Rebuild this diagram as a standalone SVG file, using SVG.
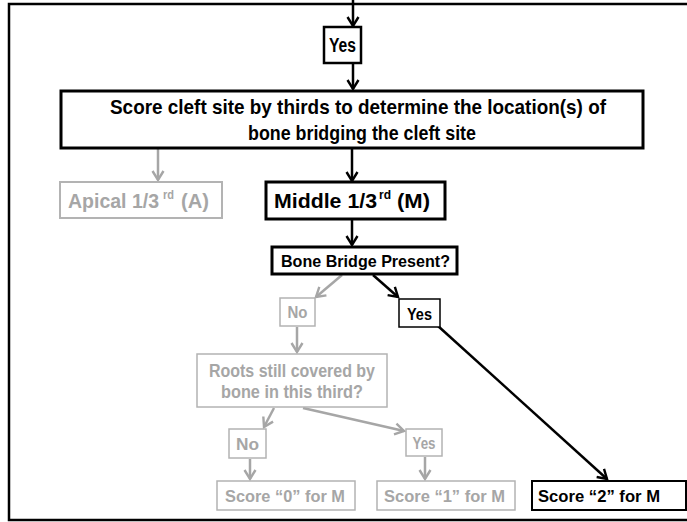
<svg xmlns="http://www.w3.org/2000/svg" width="687" height="522" viewBox="0 0 687 522">
<style>
text{font-family:"Liberation Sans","Open Sans",sans-serif;font-weight:bold;}
.k{fill:#000;}
.g{fill:#a6a6a6;}
.bk{fill:#fff;stroke:#000;}
.bg{fill:#fff;stroke:#b3b3b3;stroke-width:1.5;}
.ck{stroke:#000;stroke-width:2.5;fill:none;}
.cg{stroke:#a6a6a6;stroke-width:2.5;fill:none;}
</style>
<defs>
<marker id="ak" markerWidth="14" markerHeight="14" refX="10" refY="7" orient="auto" markerUnits="userSpaceOnUse">
<path d="M1,1.5 L10,7 L1,12.5" fill="none" stroke="#000" stroke-width="2.4"/>
</marker>
<marker id="ag" markerWidth="14" markerHeight="14" refX="10" refY="7" orient="auto" markerUnits="userSpaceOnUse">
<path d="M1,1.5 L10,7 L1,12.5" fill="none" stroke="#a6a6a6" stroke-width="2.4"/>
</marker>
</defs>
<rect width="687" height="522" fill="#fff"/>
<rect id="frame" x="9" y="4" width="690" height="516" fill="none" stroke="#000" stroke-width="2.5"/>

<g id="connectors">
<line class="ck" x1="353" y1="0" x2="353" y2="26" marker-end="url(#ak)"/>
<line class="ck" x1="353" y1="63" x2="353" y2="89" marker-end="url(#ak)"/>
<line class="cg" x1="158" y1="149" x2="158" y2="180" marker-end="url(#ag)"/>
<line class="ck" x1="352" y1="149" x2="352" y2="181" marker-end="url(#ak)"/>
<line class="ck" x1="352" y1="219" x2="352" y2="245" marker-end="url(#ak)"/>
<line class="cg" x1="342" y1="275" x2="316" y2="297" marker-end="url(#ag)"/>
<line class="ck" x1="373" y1="275" x2="398" y2="297" marker-end="url(#ak)"/>
<line class="ck" x1="438" y1="326" x2="607" y2="479" marker-end="url(#ak)"/>
<line class="cg" x1="297" y1="327" x2="297" y2="352" marker-end="url(#ag)"/>
<line class="cg" x1="274" y1="408" x2="264" y2="427" marker-end="url(#ag)"/>
<line class="cg" x1="303" y1="408" x2="404" y2="431" marker-end="url(#ag)"/>
<line class="cg" x1="250" y1="459" x2="250" y2="479" marker-end="url(#ag)"/>
<line class="cg" x1="425" y1="457" x2="425" y2="479" marker-end="url(#ag)"/>
</g>

<g id="yes-top">
<rect class="bk" x="324" y="27" width="37" height="36" stroke-width="2.5"/>
<text class="k" x="342.5" y="52" font-size="20" text-anchor="middle" textLength="27" lengthAdjust="spacingAndGlyphs">Yes</text>
</g>

<g id="score-cleft">
<rect class="bk" x="61" y="91" width="582" height="57" stroke-width="3"/>
<text class="k" x="358" y="114" font-size="21" text-anchor="middle" textLength="496" lengthAdjust="spacingAndGlyphs">Score cleft site by thirds to determine the location(s) of</text>
<text class="k" x="362" y="140" font-size="21" text-anchor="middle" textLength="228" lengthAdjust="spacingAndGlyphs">bone bridging the cleft site</text>
</g>

<g id="apical">
<rect x="60" y="182" width="162" height="36" fill="#fff" stroke="#b3b3b3" stroke-width="2"/>
<text class="g" x="68" y="208" font-size="20" textLength="91" lengthAdjust="spacingAndGlyphs">Apical 1/3</text>
<text class="g" x="163" y="199" font-size="12" textLength="11" lengthAdjust="spacingAndGlyphs">rd</text>
<text class="g" x="181" y="208" font-size="21" textLength="28" lengthAdjust="spacingAndGlyphs">(A)</text>
</g>

<g id="middle">
<rect class="bk" x="266" y="182" width="179" height="37" stroke-width="3"/>
<text class="k" x="274" y="208" font-size="21" textLength="103" lengthAdjust="spacingAndGlyphs">Middle 1/3</text>
<text class="k" x="379" y="199" font-size="12" textLength="12" lengthAdjust="spacingAndGlyphs">rd</text>
<text class="k" x="397" y="208" font-size="21" textLength="33" lengthAdjust="spacingAndGlyphs">(M)</text>
</g>

<g id="bone-bridge">
<rect class="bk" x="272" y="247" width="185" height="27" stroke-width="3"/>
<text class="k" x="281" y="267" font-size="17" textLength="169" lengthAdjust="spacingAndGlyphs">Bone Bridge Present?</text>
</g>

<g id="no-1">
<rect class="bg" x="280" y="298" width="35" height="28"/>
<text class="g" x="297.5" y="318" font-size="16" text-anchor="middle" textLength="20" lengthAdjust="spacingAndGlyphs">No</text>
</g>

<g id="yes-1">
<rect class="bk" x="399" y="299" width="41" height="28" stroke-width="1.5"/>
<text class="k" x="419.5" y="320" font-size="17" text-anchor="middle" textLength="25" lengthAdjust="spacingAndGlyphs">Yes</text>
</g>

<g id="roots">
<rect class="bg" x="197" y="354" width="190" height="53"/>
<text class="g" x="292" y="377" font-size="18" text-anchor="middle" textLength="166" lengthAdjust="spacingAndGlyphs">Roots still covered by</text>
<text class="g" x="292" y="398" font-size="18" text-anchor="middle" textLength="142" lengthAdjust="spacingAndGlyphs">bone in this third?</text>
</g>

<g id="no-2">
<rect class="bg" x="229" y="429" width="37" height="29"/>
<text class="g" x="247.5" y="450" font-size="16" text-anchor="middle" textLength="23" lengthAdjust="spacingAndGlyphs">No</text>
</g>

<g id="yes-2">
<rect class="bg" x="406" y="429" width="36" height="27"/>
<text class="g" x="424" y="449" font-size="16" text-anchor="middle" textLength="23" lengthAdjust="spacingAndGlyphs">Yes</text>
</g>

<g id="score-0">
<rect class="bg" x="217" y="481" width="138" height="29"/>
<text class="g" x="225" y="502" font-size="17" textLength="120" lengthAdjust="spacingAndGlyphs">Score “0” for M</text>
</g>

<g id="score-1">
<rect class="bg" x="377" y="481" width="138" height="29"/>
<text class="g" x="384" y="502" font-size="17" textLength="121" lengthAdjust="spacingAndGlyphs">Score “1” for M</text>
</g>

<g id="score-2">
<rect class="bk" x="532" y="481" width="154" height="29" stroke-width="2"/>
<text class="k" x="538" y="502" font-size="17" textLength="122" lengthAdjust="spacingAndGlyphs">Score “2” for M</text>
</g>
</svg>
